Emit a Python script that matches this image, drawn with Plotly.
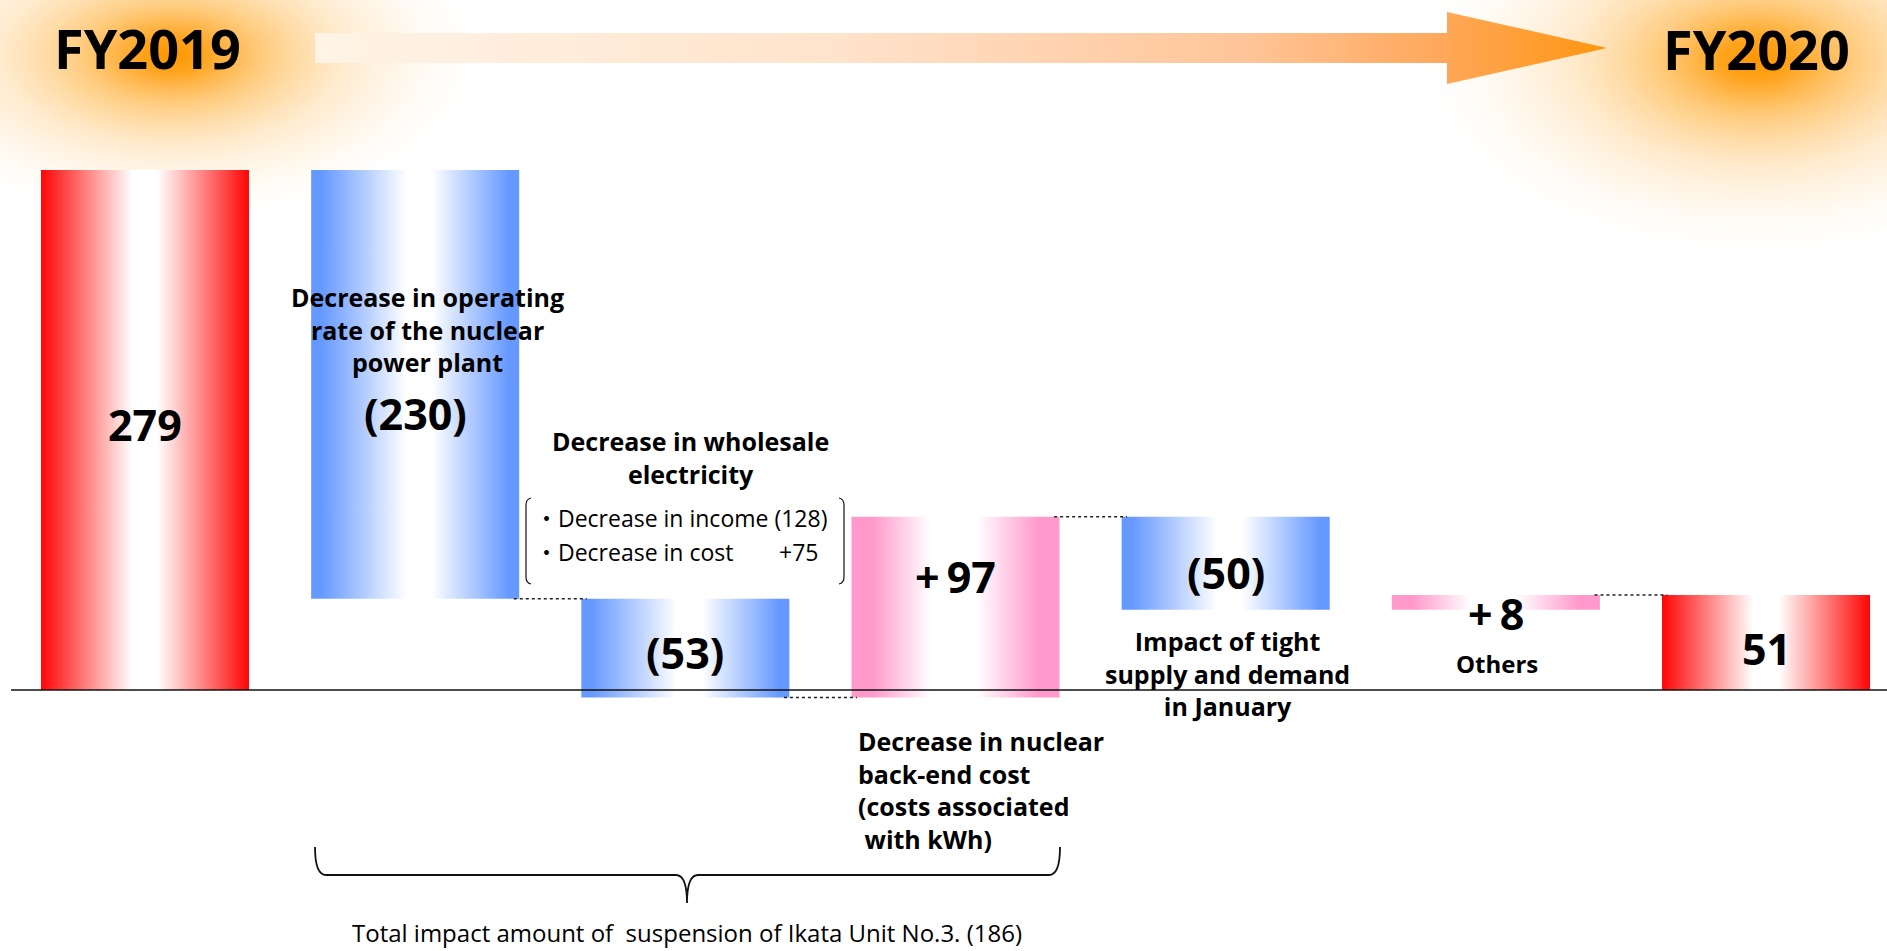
import numpy as np
import plotly.graph_objects as go

# ---------------- data ----------------
categories = ["FY2019", "Operating rate of the nuclear power plant",
              "Wholesale electricity", "Nuclear back-end cost",
              "Tight supply and demand in January", "Others", "FY2020"]
start_value = 279
step_values = [-230, -53, 97, -50, 8]
end_value = 51
value_labels = ["279", "(230)", "(53)", "+\u200997", "(50)", "+\u20098", "51"]
bar_kinds = ["total", "down", "down", "up", "down", "up", "total"]
wholesale_items = ["Decrease in income", "Decrease in cost"]
wholesale_values = ["(128)", "+75"]
ikata_total = "(186)"
linked_pairs = [(1, 2), (2, 3), (3, 4), (5, 6)]

# ---------------- waterfall geometry ----------------
lows, highs, ends = [0], [start_value], [start_value]
level = start_value
for s in step_values:
    new = level + s
    lows.append(min(level, new))
    highs.append(max(level, new))
    ends.append(new)
    level = new
lows.append(0)
highs.append(end_value)
ends.append(end_value)

W, H = 1887, 951
PX_PER_CAT = 270.17
X_ORIGIN_PX = 145.0          # pixel column of the first category centre
ZERO_PX = 690.0              # pixel row of the zero line
PX_PER_UNIT = 1.864
BAR_W = 0.77

X0 = -X_ORIGIN_PX / PX_PER_CAT
X1 = (W - X_ORIGIN_PX) / PX_PER_CAT
Y1 = ZERO_PX / PX_PER_UNIT
Y0 = -(H - ZERO_PX) / PX_PER_UNIT


def gx(p):
    return X0 + p / PX_PER_CAT


def gy(p):
    return (ZERO_PX - p) / PX_PER_UNIT


def band(edge, a, b, flat=0.0):
    return [[0, edge], [flat, edge], [a, "#FFFFFF"], [b, "#FFFFFF"],
            [1 - flat, edge], [1, edge]]


styles = {
    "total": band("#FF0A0A", 0.44, 0.56, 0.01),
    "down": band("#6699FF", 0.46, 0.58, 0.05),
    "up": band("#FF99CC", 0.38, 0.60, 0.10),
}

fig = go.Figure()

# ---------------- background glows ----------------
t = np.linspace(0, 2 * np.pi, 181)
glow_scale = [[0, "rgba(255,150,0,1)"], [0.1, "rgba(255,158,15,0.95)"],
              [0.3, "rgba(255,185,80,0.72)"], [0.55, "rgba(255,212,150,0.48)"],
              [0.8, "rgba(255,232,200,0.25)"], [1, "rgba(255,250,240,0)"]]
for cx, cy, rx, ry in [(172, 55, 310, 165), (1756, 60, 335, 195)]:
    fig.add_trace(go.Scatter(
        x=gx(cx + rx * np.cos(t)), y=gy(cy + ry * np.sin(t)),
        mode="lines", line=dict(width=0), fill="toself",
        fillgradient=dict(type="radial", colorscale=glow_scale),
        hoverinfo="skip", showlegend=False))

# ---------------- progress arrow ----------------
arrow_px = [(315, 33), (1447, 33), (1447, 12), (1607, 48), (1447, 84),
            (1447, 63), (315, 63), (315, 33)]
fig.add_trace(go.Scatter(
    x=[gx(p[0]) for p in arrow_px], y=[gy(p[1]) for p in arrow_px],
    mode="lines", line=dict(width=0), fill="toself",
    fillgradient=dict(type="horizontal",
                      colorscale=[[0, "#FFF4E6"], [0.4, "#FFE3CC"],
                                  [0.72, "#FFC598"], [0.87, "#FFA85C"],
                                  [1, "#FF950F"]]),
    hoverinfo="skip", showlegend=False))

# ---------------- bars ----------------
for i, name in enumerate(categories):
    xl, xr = i - BAR_W / 2, i + BAR_W / 2
    lo, hi = lows[i], highs[i]
    fig.add_trace(go.Scatter(
        x=[xl, xr, xr, xl, xl], y=[lo, lo, hi, hi, lo],
        mode="lines", line=dict(width=0), fill="toself",
        fillgradient=dict(type="horizontal", colorscale=styles[bar_kinds[i]]),
        name=name, hoverinfo="skip", showlegend=False))

shapes = []
# zero line
shapes.append(dict(type="line", xref="x", yref="y", x0=gx(11), x1=X1, y0=0, y1=0,
                   line=dict(color="#111111", width=1.5), layer="above"))
# dotted connectors
for a, b in linked_pairs:
    lvl = ends[a]
    shapes.append(dict(type="line", xref="x", yref="y",
                       x0=a + BAR_W / 2 - 0.02, x1=b - BAR_W / 2 + 0.02,
                       y0=lvl, y1=lvl,
                       line=dict(color="#222222", width=1.5, dash="dot"),
                       layer="above"))


def path(points_cmds):
    out = []
    for cmd, pts in points_cmds:
        out.append(cmd + " " + " ".join(f"{gx(px):.5f},{gy(py):.5f}" for px, py in pts))
    return " ".join(out)


# brackets around the wholesale breakdown
left_br = path([("M", [(531, 498)]), ("Q", [(526, 499), (526, 505)]),
                ("L", [(526, 577)]), ("Q", [(526, 583), (531, 584)])])
right_br = path([("M", [(839, 498)]), ("Q", [(844, 499), (844, 505)]),
                 ("L", [(844, 577)]), ("Q", [(844, 583), (839, 584)])])
# brace under the Ikata related items
brace = path([("M", [(315, 847)]), ("Q", [(315, 875), (326, 875)]),
              ("L", [(676, 875)]), ("Q", [(687, 875), (687, 903)]),
              ("Q", [(687, 875), (698, 875)]), ("L", [(1049, 875)]),
              ("Q", [(1060, 875), (1060, 847)])])
for p, wdt in [(left_br, 1.2), (right_br, 1.2), (brace, 1.8)]:
    shapes.append(dict(type="path", xref="x", yref="y", path=p,
                       line=dict(color="#111111", width=wdt)))

# ---------------- text ----------------
FONT = "Open Sans, Noto Sans, Noto Sans CJK JP, sans-serif"
ann = []


def label(text, px, py, size, bold=True, xanchor="center", align="center"):
    ann.append(dict(x=gx(px), y=gy(py), xref="x", yref="y", text=text,
                    showarrow=False, xanchor=xanchor, yanchor="middle",
                    align=align,
                    font=dict(family=FONT, size=size, color="#000000",
                              weight=700 if bold else 400)))


label(categories[0], 147, 48, 54)
label(categories[6], 1756, 49, 54)

value_rows = [424, 413, 652, 576, 572, 613, 648]
for i, txt in enumerate(value_labels):
    ann.append(dict(x=i, y=gy(value_rows[i]), xref="x", yref="y", text=txt,
                    showarrow=False, xanchor="center", yanchor="middle",
                    font=dict(family=FONT, size=43, color="#000000", weight=700)))

label("Decrease in operating<br>rate of the nuclear<br>power plant", 427, 329, 25)
label("Decrease in wholesale<br>electricity", 690, 457, 25)
label("Decrease in nuclear<br>back-end cost<br>(costs associated<br>\u00a0with kWh)",
      856, 790, 25, xanchor="left", align="left")
label("Impact of tight<br>supply and demand<br>in January", 1227, 673, 25)
label(categories[5], 1497, 663, 24)

label(f"・{wholesale_items[0]} {wholesale_values[0]}", 533, 518, 23,
      bold=False, xanchor="left", align="left")
label(f"・{wholesale_items[1]}", 533, 552, 23, bold=False, xanchor="left",
      align="left")
label(wholesale_values[1], 820, 552, 23, bold=False, xanchor="right")

label(f"Total impact amount of\u00a0 suspension of Ikata Unit No.3. {ikata_total}",
      687, 932, 24, bold=False)

fig.update_layout(
    width=W, height=H, autosize=False,
    margin=dict(l=0, r=0, t=0, b=0, pad=0),
    paper_bgcolor="#FFFFFF", plot_bgcolor="#FFFFFF",
    xaxis=dict(range=[X0, X1], visible=False, fixedrange=True),
    yaxis=dict(range=[Y0, Y1], visible=False, fixedrange=True),
    shapes=shapes, annotations=ann, showlegend=False,
)

fig.write_html("out.html")
